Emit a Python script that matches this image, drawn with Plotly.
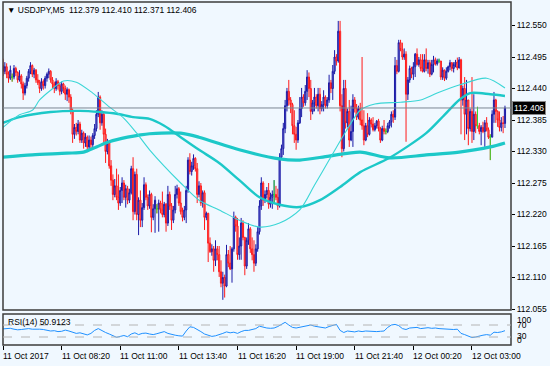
import plotly.graph_objects as go

# ---------------- data ----------------
TITLE = "▼ USDJPY,M5  112.379 112.410 112.371 112.406"
LAST_PRICE = 112.406
RSI_LABEL = "RSI(14) 50.9123"

TICK_BARS = [0, 32, 64, 96, 128, 160, 192, 224, 256]
TICK_LABELS = ["11 Oct 2017", "11 Oct 08:20", "11 Oct 11:00", "11 Oct 13:40",
               "11 Oct 16:20", "11 Oct 19:00", "11 Oct 21:40", "12 Oct 00:20",
               "12 Oct 03:00"]
PRICE_TICKS = [112.055, 112.110, 112.165, 112.220, 112.275, 112.330,
               112.385, 112.440, 112.495, 112.550]

OPEN = [
 112.480,112.470,112.478,112.465,112.458,112.460,112.460,112.475,112.468,112.455,
 112.462,112.448,112.432,112.445,112.458,112.470,112.480,112.465,112.472,112.455,
 112.450,112.440,112.452,112.445,112.458,112.465,112.470,112.455,112.448,112.440,
 112.452,112.445,112.435,112.448,112.440,112.430,112.438,112.425,112.400,112.360,
 112.372,112.365,112.378,112.350,112.362,112.345,112.355,112.338,112.350,112.342,
 112.358,112.370,112.395,112.425,112.380,112.395,112.360,112.330,112.345,112.305,
 112.280,112.255,112.270,112.250,112.240,112.262,112.275,112.250,112.265,112.245,
 112.258,112.300,112.225,112.290,112.220,112.245,112.210,112.232,112.272,112.250,
 112.235,112.255,112.215,112.230,112.230,112.230,112.240,112.228,112.220,112.238,
 112.205,112.255,112.235,112.210,112.228,112.255,112.265,112.240,112.225,112.215,
 112.228,112.262,112.315,112.295,112.305,112.318,112.300,112.255,112.270,112.240,
 112.258,112.215,112.222,112.170,112.155,112.160,112.140,112.160,112.150,112.120,
 112.100,112.110,112.095,112.150,112.135,112.125,112.160,112.215,112.200,112.150,
 112.165,112.205,112.180,112.130,112.175,112.195,112.160,112.150,112.135,112.160,
 112.190,112.235,112.275,112.245,112.255,112.262,112.238,112.250,112.255,112.255,
 112.250,112.235,112.320,112.335,112.370,112.410,112.435,112.420,112.412,112.375,
 112.360,112.350,112.380,112.405,112.425,112.415,112.435,112.460,112.440,112.400,
 112.415,112.425,112.410,112.430,112.405,112.412,112.425,112.410,112.420,112.450,
 112.440,112.470,112.495,112.488,112.540,112.410,112.335,112.440,112.380,112.400,
 112.350,112.365,112.420,112.405,112.390,112.405,112.385,112.375,112.350,112.375,
 112.360,112.385,112.378,112.368,112.375,112.383,112.370,112.350,112.370,112.365,
 112.365,112.375,112.382,112.395,112.390,112.480,112.470,112.520,112.508,112.495,
 112.500,112.430,112.455,112.475,112.465,112.478,112.500,112.482,112.490,112.475,
 112.470,112.490,112.475,112.485,112.465,112.482,112.490,112.483,112.488,112.488,
 112.460,112.472,112.458,112.470,112.478,112.485,112.475,112.482,112.486,112.476,
 112.490,112.420,112.440,112.395,112.420,112.370,112.400,112.365,112.395,112.375,
 112.375,112.365,112.372,112.365,112.380,112.368,112.355,112.355,112.395,112.420,
 112.400,112.385,112.372,112.380,112.379]
HIGH = [
 112.492,112.486,112.484,112.470,112.480,112.466,112.481,112.478,112.470,112.472,
 112.465,112.452,112.450,112.462,112.474,112.486,112.482,112.476,112.474,112.465,
 112.455,112.458,112.456,112.462,112.468,112.475,112.472,112.460,112.452,112.458,
 112.455,112.450,112.452,112.450,112.445,112.442,112.440,112.430,112.405,112.378,
 112.380,112.385,112.382,112.368,112.365,112.362,112.358,112.358,112.356,112.362,
 112.378,112.402,112.434,112.428,112.402,112.400,112.370,112.352,112.350,112.315,
 112.290,112.282,112.300,112.290,112.268,112.285,112.280,112.272,112.270,112.265,
 112.305,112.320,112.295,112.300,112.250,112.262,112.240,112.285,112.276,112.255,
 112.262,112.258,112.238,112.252,112.238,112.246,112.244,112.260,112.242,112.240,
 112.270,112.260,112.240,112.235,112.270,112.272,112.268,112.260,112.232,112.235,
 112.270,112.320,112.327,112.312,112.325,112.320,112.310,112.278,112.275,112.262,
 112.262,112.225,112.223,112.180,112.168,112.165,112.175,112.165,112.165,112.140,
 112.120,112.115,112.167,112.158,112.165,112.163,112.225,112.218,112.214,112.180,
 112.214,112.210,112.181,112.180,112.205,112.198,112.180,112.175,112.168,112.198,
 112.245,112.285,112.278,112.262,112.268,112.275,112.258,112.262,112.280,112.270,
 112.265,112.327,112.342,112.380,112.420,112.441,112.455,112.425,112.415,112.402,
 112.373,112.385,112.425,112.441,112.430,112.446,112.472,112.468,112.455,112.420,
 112.441,112.430,112.441,112.441,112.418,112.437,112.428,112.425,112.464,112.455,
 112.481,112.507,112.500,112.558,112.558,112.430,112.455,112.455,112.405,112.420,
 112.410,112.430,112.425,112.413,112.410,112.415,112.495,112.402,112.380,112.397,
 112.390,112.388,112.390,112.380,112.385,112.387,112.373,112.375,112.385,112.370,
 112.380,112.385,112.400,112.402,112.495,112.490,112.525,112.525,112.520,112.510,
 112.505,112.460,112.480,112.478,112.486,112.502,112.510,112.495,112.500,112.500,
 112.500,112.510,112.490,112.490,112.490,112.497,112.494,112.492,112.492,112.488,
 112.477,112.473,112.477,112.480,112.490,112.486,112.486,112.490,112.494,112.495,
 112.492,112.445,112.460,112.455,112.420,112.405,112.460,112.430,112.400,112.408,
 112.380,112.376,112.382,112.385,112.390,112.372,112.360,112.402,112.434,112.422,
 112.402,112.400,112.390,112.392,112.410]
LOW = [
 112.462,112.465,112.458,112.450,112.455,112.452,112.456,112.462,112.450,112.452,
 112.440,112.420,112.428,112.440,112.452,112.465,112.460,112.458,112.450,112.446,
 112.432,112.436,112.438,112.440,112.452,112.458,112.450,112.440,112.432,112.436,
 112.438,112.428,112.430,112.432,112.420,112.418,112.415,112.395,112.345,112.352,
 112.358,112.360,112.345,112.345,112.335,112.338,112.329,112.332,112.335,112.338,
 112.352,112.365,112.390,112.368,112.375,112.345,112.310,112.325,112.300,112.270,
 112.245,112.250,112.245,112.228,112.235,112.240,112.245,112.232,112.238,112.240,
 112.255,112.210,112.220,112.210,112.184,112.198,112.198,112.228,112.245,112.228,
 112.230,112.189,112.210,112.188,112.222,112.190,112.222,112.215,112.215,112.190,
 112.200,112.228,112.193,112.205,112.222,112.248,112.235,112.220,112.208,112.210,
 112.205,112.258,112.290,112.288,112.298,112.295,112.240,112.250,112.235,112.232,
 112.193,112.210,112.137,112.153,112.148,112.120,112.130,112.140,112.111,112.093,
 112.071,112.075,112.093,112.128,112.123,112.101,112.155,112.190,112.141,112.141,
 112.141,112.175,112.114,112.125,112.167,112.153,112.140,112.120,112.130,112.155,
 112.185,112.228,112.235,112.240,112.248,112.230,112.232,112.230,112.240,112.245,
 112.228,112.232,112.315,112.324,112.362,112.400,112.410,112.397,112.360,112.345,
 112.333,112.345,112.378,112.390,112.408,112.410,112.420,112.425,112.385,112.395,
 112.400,112.405,112.400,112.395,112.400,112.400,112.405,112.405,112.415,112.432,
 112.420,112.465,112.480,112.485,112.400,112.320,112.330,112.370,112.372,112.338,
 112.348,112.338,112.398,112.385,112.386,112.376,112.368,112.341,112.348,112.355,
 112.358,112.372,112.365,112.365,112.370,112.365,112.345,112.348,112.360,112.360,
 112.362,112.370,112.372,112.380,112.385,112.465,112.468,112.505,112.490,112.490,
 112.347,112.420,112.450,112.458,112.455,112.460,112.480,112.478,112.470,112.468,
 112.468,112.470,112.466,112.460,112.463,112.468,112.480,112.480,112.485,112.455,
 112.455,112.453,112.455,112.468,112.472,112.470,112.468,112.477,112.472,112.475,
 112.360,112.410,112.350,112.360,112.341,112.365,112.345,112.350,112.362,112.370,
 112.360,112.341,112.362,112.338,112.365,112.352,112.315,112.355,112.380,112.380,
 112.373,112.365,112.365,112.362,112.371]
CLOSE = [
 112.470,112.478,112.465,112.458,112.472,112.460,112.475,112.468,112.455,112.462,
 112.448,112.432,112.445,112.458,112.470,112.480,112.465,112.472,112.455,112.450,
 112.440,112.452,112.445,112.458,112.465,112.470,112.455,112.448,112.440,112.452,
 112.445,112.435,112.448,112.440,112.430,112.438,112.425,112.400,112.360,112.372,
 112.365,112.378,112.350,112.362,112.345,112.355,112.338,112.350,112.342,112.358,
 112.370,112.395,112.425,112.380,112.395,112.360,112.330,112.345,112.305,112.280,
 112.255,112.270,112.250,112.240,112.262,112.275,112.250,112.265,112.245,112.258,
 112.300,112.225,112.290,112.220,112.245,112.210,112.232,112.272,112.250,112.235,
 112.255,112.215,112.230,112.245,112.230,112.240,112.228,112.220,112.238,112.205,
 112.255,112.235,112.210,112.228,112.255,112.265,112.240,112.225,112.215,112.228,
 112.262,112.315,112.295,112.305,112.318,112.300,112.255,112.270,112.240,112.258,
 112.215,112.222,112.170,112.155,112.160,112.140,112.160,112.150,112.120,112.100,
 112.110,112.095,112.150,112.135,112.125,112.160,112.215,112.200,112.150,112.165,
 112.205,112.180,112.130,112.175,112.195,112.160,112.150,112.135,112.160,112.190,
 112.235,112.275,112.245,112.255,112.262,112.238,112.250,112.255,112.255,112.250,
 112.235,112.320,112.335,112.370,112.410,112.435,112.420,112.412,112.375,112.360,
 112.350,112.380,112.405,112.425,112.415,112.435,112.460,112.440,112.400,112.415,
 112.425,112.410,112.430,112.405,112.412,112.425,112.410,112.420,112.450,112.440,
 112.470,112.495,112.488,112.540,112.410,112.335,112.440,112.380,112.400,112.350,
 112.365,112.420,112.405,112.390,112.405,112.385,112.375,112.350,112.375,112.360,
 112.385,112.378,112.368,112.375,112.383,112.370,112.350,112.370,112.365,112.365,
 112.375,112.382,112.395,112.390,112.480,112.470,112.520,112.508,112.495,112.500,
 112.430,112.455,112.475,112.465,112.478,112.500,112.482,112.490,112.475,112.470,
 112.490,112.475,112.485,112.465,112.482,112.490,112.483,112.488,112.488,112.460,
 112.472,112.458,112.470,112.478,112.485,112.475,112.482,112.486,112.476,112.490,
 112.420,112.440,112.395,112.420,112.370,112.400,112.365,112.395,112.375,112.375,
 112.365,112.372,112.365,112.380,112.368,112.355,112.355,112.395,112.420,112.400,
 112.385,112.372,112.380,112.379,112.406]
DOJI_BARS = [5, 84, 148, 209, 238, 259, 266]

# moving averages (bar index, price)
MA_FAST_BARS = [0, 9, 16, 20, 26, 33, 40, 49, 58, 66, 73, 80, 97, 107, 118, 129,
                140, 151, 162, 170, 178, 187, 195, 203, 217, 228, 237, 249, 264, 274]
MA_FAST = [112.372, 112.394, 112.402, 112.420, 112.437, 112.453, 112.451, 112.432,
           112.408, 112.388, 112.362, 112.333, 112.275, 112.245, 112.228, 112.210,
           112.198, 112.205, 112.228, 112.271, 112.315, 112.364, 112.402, 112.413,
           112.416, 112.420, 112.432, 112.446, 112.458, 112.441]
MA_MID_BARS = [0, 9, 26, 42, 53, 62, 71, 80, 88, 97, 107, 118, 129, 140, 151, 162,
               173, 184, 195, 211, 231, 241, 249, 255, 266, 274]
MA_MID = [112.380, 112.390, 112.399, 112.401, 112.399, 112.396, 112.390, 112.387,
          112.375, 112.355, 112.333, 112.310, 112.280, 112.250, 112.237, 112.233,
          112.245, 112.268, 112.294, 112.319, 112.362, 112.394, 112.420, 112.432,
          112.430, 112.427]
MA_SLOW_BARS = [0, 16, 35, 44, 51, 58, 68, 75, 80, 97, 107, 129, 151, 162, 178, 195,
                211, 231, 249, 266, 274]
MA_SLOW = [112.320, 112.324, 112.327, 112.329, 112.338, 112.347, 112.355, 112.359,
           112.361, 112.362, 112.355, 112.333, 112.317, 112.315, 112.322, 112.329,
           112.319, 112.324, 112.329, 112.338, 112.345]

# RSI(14), one reading every second bar
RSI_BARS = list(range(0, 275, 2))
RSI = [57, 58, 59, 56, 54, 55, 57, 58, 56, 57, 56, 55, 52, 50, 51, 48, 49, 53, 50, 47,
       42, 44, 40, 37, 42, 52, 58, 50, 45, 40, 34, 29, 32, 35, 31, 40, 44, 38, 42, 43,
       40, 38, 41, 45, 48, 42, 38, 36, 34, 33, 50, 64, 62, 56, 48, 40, 36, 32, 34, 37,
       42, 47, 44, 46, 42, 48, 52, 52, 55, 58, 66, 62, 60, 59, 60, 65, 72, 79, 70, 62,
       60, 62, 65, 68, 70, 66, 64, 61, 60, 65, 68, 72, 52, 45, 50, 48, 47, 50, 48, 50,
       49, 47, 48, 49, 50, 62, 70, 72, 68, 58, 55, 60, 61, 62, 58, 60, 61, 59, 60, 58,
       57, 56, 57, 55, 56, 42, 38, 33, 28, 30, 34, 36, 38, 36, 46, 45, 47, 51]

# ---------------- figure ----------------
W, H = 550, 366
L_PX, R_PX, T_PX, B_PX = 3, 511, 2, 345       # plotting rectangle
MAIN_BOTTOM, RSI_TOP = 310, 314
BG = "#F0F8FF"
FONT = "Liberation Sans, Arial, sans-serif"
PX_PER_BAR = 1.832

def py(px):  # pixel row -> paper y
    return (B_PX - px) / (B_PX - T_PX)

def pxx(px):  # pixel column -> paper x
    return (px - L_PX) / (R_PX - L_PX)

bars = list(range(len(CLOSE)))
fig = go.Figure()

fig.add_trace(go.Candlestick(
    x=bars, open=OPEN, high=HIGH, low=LOW, close=CLOSE,
    increasing=dict(line=dict(color="#1A1AA6", width=1), fillcolor="#7E7ED6"),
    decreasing=dict(line=dict(color="#FF1A1A", width=1), fillcolor="#F48A8A"),
    whiskerwidth=0, hoverinfo="skip", showlegend=False, xaxis="x", yaxis="y"))

fig.add_trace(go.Candlestick(
    x=DOJI_BARS, open=[OPEN[i] for i in DOJI_BARS], high=[HIGH[i] for i in DOJI_BARS],
    low=[LOW[i] for i in DOJI_BARS], close=[CLOSE[i] for i in DOJI_BARS],
    increasing=dict(line=dict(color="#33DD33", width=1), fillcolor="#33DD33"),
    decreasing=dict(line=dict(color="#33DD33", width=1), fillcolor="#33DD33"),
    whiskerwidth=0, hoverinfo="skip", showlegend=False, xaxis="x", yaxis="y"))

for xs, ys, w, col in [(MA_SLOW_BARS, MA_SLOW, 3.2, "#1CC8C8"),
                       (MA_MID_BARS, MA_MID, 2.4, "#1CC8C8"),
                       (MA_FAST_BARS, MA_FAST, 1.1, "#3AD6D6")]:
    fig.add_trace(go.Scatter(x=xs, y=ys, mode="lines",
                             line=dict(color=col, width=w, shape="spline", smoothing=0.8),
                             hoverinfo="skip", showlegend=False, xaxis="x", yaxis="y"))

fig.add_trace(go.Scatter(x=RSI_BARS, y=RSI, mode="lines",
                         line=dict(color="#1E90FF", width=1),
                         hoverinfo="skip", showlegend=False, xaxis="x2", yaxis="y2"))

xr = [0, (R_PX - L_PX) / PX_PER_BAR]
y_top = 112.550 + (25.5 - T_PX) * 0.001746
y_bot = 112.550 - (MAIN_BOTTOM - 25.5) * 0.001746
r_top = 70 - (RSI_TOP - 325) / 0.3
r_bot = 70 - (B_PX - 325) / 0.3

fig.update_layout(
    width=W, height=H, paper_bgcolor=BG, plot_bgcolor=BG, boxgap=0.1,
    margin=dict(l=L_PX, r=W - R_PX, t=T_PX, b=H - B_PX),
    font=dict(family=FONT, size=8.5, color="#000000"),
    xaxis=dict(domain=[0, 1], range=xr, anchor="y", showgrid=False, zeroline=False,
               showticklabels=False, ticks="", rangeslider=dict(visible=False),
               showline=False, fixedrange=True),
    yaxis=dict(domain=[py(MAIN_BOTTOM), 1], range=[y_bot, y_top], side="right",
               anchor="x", showgrid=False, zeroline=False, tickvals=PRICE_TICKS,
               ticktext=[f"{v:.3f}" for v in PRICE_TICKS], ticks="outside", ticklen=3,
               tickcolor="#000000", tickfont=dict(size=8.5, family=FONT), showline=False),
    xaxis2=dict(domain=[0, 1], range=xr, anchor="y2", showgrid=False, zeroline=False,
                tickvals=TICK_BARS, showticklabels=False, ticks="outside", ticklen=4,
                tickcolor="#000000", showline=False, rangeslider=dict(visible=False)),
    yaxis2=dict(domain=[0, py(RSI_TOP)], range=[r_bot, r_top], side="right",
                anchor="x2", showgrid=False, zeroline=False, showticklabels=False,
                ticks="", showline=False),
)

shapes = []
# frames
for top, bot in [(T_PX, MAIN_BOTTOM), (RSI_TOP, B_PX)]:
    shapes.append(dict(type="rect", xref="paper", yref="paper", x0=0, x1=1,
                       y0=py(bot), y1=py(top), line=dict(color="#3C3C3C", width=1.5)))
# current price line
shapes.append(dict(type="line", xref="x domain", yref="y", x0=0, x1=1,
                   y0=LAST_PRICE, y1=LAST_PRICE, line=dict(color="#7C8794", width=1)))
# RSI levels
for lvl in (70, 30):
    shapes.append(dict(type="line", xref="x2 domain", yref="y2", x0=0, x1=1,
                       y0=lvl, y1=lvl, line=dict(color="#B4B4B4", width=1, dash="dash")))
fig.update_layout(shapes=shapes)

ann = []
ann.append(dict(text=TITLE, xref="paper", yref="paper", x=pxx(5), y=py(10),
                xanchor="left", yanchor="middle", showarrow=False,
                font=dict(size=8.5, family=FONT, color="#000000")))
ann.append(dict(text=RSI_LABEL, xref="paper", yref="paper", x=pxx(6), y=py(322),
                xanchor="left", yanchor="middle", showarrow=False,
                font=dict(size=8.5, family=FONT, color="#000000")))
for b, lab in zip(TICK_BARS, TICK_LABELS):
    ann.append(dict(text=lab, xref="x2", yref="paper", x=b, y=py(356),
                    xanchor="left", yanchor="middle", showarrow=False, xshift=-2,
                    font=dict(size=8.5, family=FONT, color="#000000")))
for val, ypx in [("100", 320), ("70", 325), ("30", 336), ("0", 340)]:
    ann.append(dict(text=val, xref="paper", yref="paper", x=pxx(515), y=py(ypx),
                    xanchor="left", yanchor="middle", showarrow=False,
                    font=dict(size=8.5, family=FONT, color="#000000")))
ann.append(dict(text=f"{LAST_PRICE:.3f}", xref="paper", yref="y", x=pxx(512),
                y=LAST_PRICE, xanchor="left", yanchor="middle", showarrow=False,
                bgcolor="#000000", bordercolor="#8A8A8A", borderwidth=1, borderpad=1,
                font=dict(size=8.5, family=FONT, color="#FFFFFF")))
fig.update_layout(annotations=ann)

fig.write_html("out.html", config={"displayModeBar": False},
               post_script="document.body.style.margin='0px';")
